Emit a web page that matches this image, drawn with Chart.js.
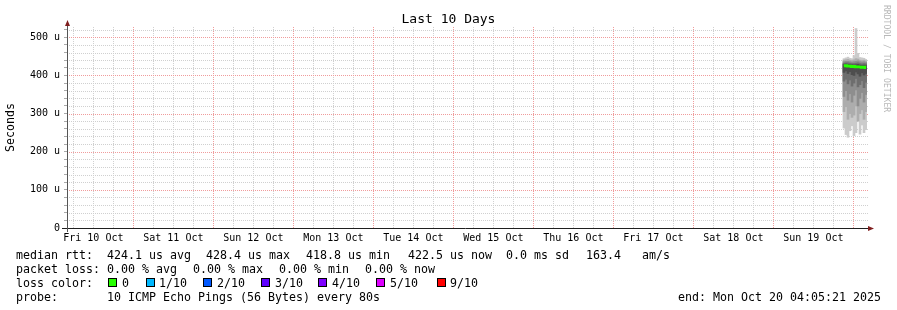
<!DOCTYPE html>
<html>
<head>
<meta charset="utf-8">
<script src="https://cdn.jsdelivr.net/npm/chart.js@4"></script>
<style>
html,body{margin:0;padding:0;background:#fff;}
#wrap{position:relative;width:897px;height:310px;overflow:hidden;background:#fff;}
#c{position:absolute;left:0;top:0;}
.t{position:absolute;font-family:'DejaVu Sans Mono',monospace;font-size:11.63px;line-height:14px;white-space:pre;color:#000;}
.box{position:absolute;width:9px;height:9px;box-sizing:border-box;border:1px solid #000;}
#title{position:absolute;left:0;top:11px;width:897px;text-align:center;font-family:'DejaVu Sans Mono',monospace;font-size:13px;line-height:16px;color:#000;white-space:pre;}
#wm{position:absolute;left:882px;top:5px;font-family:'DejaVu Sans Mono',monospace;font-size:8.1px;line-height:9px;color:#b8b8b8;writing-mode:vertical-rl;white-space:pre;}
</style>
</head>
<body>
<div id="wrap">
<canvas id="c" width="897" height="310"></canvas>
<div id="title">Last 10 Days</div>
<div id="wm">RRDTOOL / TOBI OETIKER</div>

<div class="t" style="left:16px;top:248px">median rtt:</div>
<div class="t" style="left:107px;top:248px">424.1 us avg</div>
<div class="t" style="left:206px;top:248px">428.4 us max</div>
<div class="t" style="left:306px;top:248px">418.8 us min</div>
<div class="t" style="left:408px;top:248px">422.5 us now</div>
<div class="t" style="left:506px;top:248px">0.0 ms sd</div>
<div class="t" style="left:586px;top:248px">163.4   am/s</div>

<div class="t" style="left:16px;top:262px">packet loss:</div>
<div class="t" style="left:107px;top:262px">0.00 % avg</div>
<div class="t" style="left:193px;top:262px">0.00 % max</div>
<div class="t" style="left:279px;top:262px">0.00 % min</div>
<div class="t" style="left:365px;top:262px">0.00 % now</div>

<div class="t" style="left:16px;top:276px">loss color:</div>
<div id="losslegend"></div>

<div class="t" style="left:16px;top:290px">probe:</div>
<div class="t" style="left:107px;top:290px">10 ICMP Echo Pings (56 Bytes) every 80s</div>
<div class="t" style="left:678px;top:290px">end: Mon Oct 20 04:05:21 2025</div>
</div>

<script>
// ---------------- data ----------------
// x positions: hours since window start (Fri 10 Oct 04:05:21)
const sampleHours = [233.1, 233.7, 234.3, 234.9, 235.5, 236.1, 236.7, 237.3, 237.9, 238.5, 239.1, 239.7];
// smoke layers (microseconds), outer (ping 1/10) to inner (ping 5/6)
const smoke1Low  = [262, 245, 238, 255, 268, 242, 250, 290, 246, 270, 250, 258];
const smoke1High = [444, 446, 448, 445, 444, 452, 523, 458, 447, 446, 445, 442];
const smoke2Low  = [305, 318, 285, 300, 290, 296, 320, 280, 300, 310, 285, 305];
const smoke2High = [440, 441, 442, 440, 439, 441, 444, 443, 440, 439, 440, 438];
const smoke3Low  = [345, 360, 335, 352, 330, 348, 362, 320, 340, 355, 330, 350];
const smoke3High = [436, 437, 437, 436, 435, 436, 437, 438, 436, 435, 436, 434];
const smoke4Low  = [385, 390, 378, 388, 372, 380, 392, 370, 376, 386, 368, 382];
const smoke4High = [432, 433, 433, 432, 431, 431, 432, 433, 431, 430, 431, 430];
const smoke5Low  = [408, 412, 405, 410, 402, 400, 409, 404, 398, 407, 401, 405];
const smoke5High = [429, 430, 429, 428, 428, 427, 428, 429, 427, 426, 427, 426];
const medianRtt  = [425, 426, 424, 425, 423, 424, 422, 423, 422, 421, 422, 420];

const dayLabels = ['Fri 10 Oct','Sat 11 Oct','Sun 12 Oct','Mon 13 Oct','Tue 14 Oct',
                   'Wed 15 Oct','Thu 16 Oct','Fri 17 Oct','Sat 18 Oct','Sun 19 Oct'];
const yTickValues = [0,20,40,60,80,100,120,140,160,180,200,220,240,260,280,300,320,340,360,380,400,420,440,460,480,500,520];
const lossLabels = ['0','1/10','2/10','3/10','4/10','5/10','9/10'];
const lossColors = ['#26ff00','#00b8ff','#0059ff','#5e00ff','#7e00ff','#dd00ff','#ff0000'];

const WINDOW_HOURS = 240;
const FIRST_NOON = 7.9108; // Fri 10 Oct 12:00 relative to window start
const Y_MAX = 527;

// ---------------- loss legend ----------------
const boxX = [108, 146, 203, 261, 318, 376, 437];
const txtX = [122, 159, 217, 275, 332, 390, 450];
const ll = document.getElementById('losslegend');
lossLabels.forEach((lab, i) => {
  const b = document.createElement('div');
  b.className = 'box';
  b.style.left = boxX[i] + 'px'; b.style.top = '278px'; b.style.background = lossColors[i];
  ll.appendChild(b);
  const t = document.createElement('div');
  t.className = 't'; t.style.left = txtX[i] + 'px'; t.style.top = '276px'; t.textContent = lab;
  ll.appendChild(t);
});

// ---------------- chart ----------------
const MAJOR_GRID = '#f09c9c';
const MINOR_GRID = '#d0d0d0';
const xTickValues = [];
for (let k = 0; FIRST_NOON - 6 + 6 * k < WINDOW_HOURS; k++) {
  const t = FIRST_NOON - 6 + 6 * k;
  if (t > 0) xTickValues.push(t);
}
function dayIndexAtNoon(v) {
  const k = Math.round((v - FIRST_NOON) / 24);
  return Math.abs(v - FIRST_NOON - 24 * k) < 0.01 ? k : -1;
}
function isMidnight(v) {
  const k = Math.round((v - FIRST_NOON - 12) / 24);
  return Math.abs(v - FIRST_NOON - 12 - 24 * k) < 0.01;
}

function pairs(lo, hi) { return sampleHours.map((h, i) => ({x: h, y: [lo[i], hi[i]]})); }

const layerColors = ['#cbcbcb', '#adadad', '#8e8e8e', '#6e6e6e', '#4e4e4e'];
const layers = [[smoke1Low, smoke1High],[smoke2Low, smoke2High],[smoke3Low, smoke3High],[smoke4Low, smoke4High],[smoke5Low, smoke5High]];
const datasets = layers.map((l, i) => ({
  type: 'bar',
  data: pairs(l[0], l[1]),
  backgroundColor: layerColors[i],
  borderWidth: 0,
  barThickness: 2,
  grouped: false,
  order: 10 - i
}));
datasets.push({
  type: 'line',
  data: sampleHours.map((h, i) => ({x: h, y: medianRtt[i]})),
  borderColor: '#26ff00',
  borderWidth: 2.5,
  pointRadius: 0,
  stepped: 'middle',
  order: 0
});

// dotted rrdtool-style grid, positioned by the chart's own scales
const rrdGrid = {
  id: 'rrdGrid',
  beforeDatasetsDraw(chart) {
    const {ctx, chartArea: a, scales} = chart;
    ctx.save();
    ctx.lineWidth = 1;
    ctx.setLineDash([1, 1]);
    [MINOR_GRID, MAJOR_GRID].forEach(col => {
      scales.x.ticks.forEach(t => {
        const c = isMidnight(t.value) ? MAJOR_GRID : MINOR_GRID;
        if (c !== col) return;
        const px = Math.round(scales.x.getPixelForValue(t.value)) + 0.5;
        if (px <= a.left + 1) return;
        ctx.strokeStyle = c;
        ctx.beginPath(); ctx.moveTo(px, a.top); ctx.lineTo(px, a.bottom); ctx.stroke();
      });
      scales.y.ticks.forEach(t => {
        const c = t.value % 100 === 0 ? MAJOR_GRID : MINOR_GRID;
        if (c !== col || t.value === 0) return;
        const py = Math.round(scales.y.getPixelForValue(t.value)) + 0.5;
        ctx.strokeStyle = c;
        ctx.beginPath(); ctx.moveTo(a.left, py); ctx.lineTo(a.right + 1, py); ctx.stroke();
      });
    });
    ctx.restore();
  },
  afterDraw(chart) {
    const {ctx, chartArea: a} = chart;
    ctx.save();
    ctx.setLineDash([]);
    ctx.lineWidth = 1;
    ctx.strokeStyle = '#1f1f1f';
    ctx.beginPath(); ctx.moveTo(a.left - 5, a.bottom + 0.5); ctx.lineTo(a.right + 2, a.bottom + 0.5); ctx.stroke();
    ctx.strokeStyle = '#555';
    ctx.beginPath(); ctx.moveTo(a.left + 0.5, a.bottom + 4); ctx.lineTo(a.left + 0.5, a.top - 2); ctx.stroke();
    ctx.fillStyle = '#801f1f';
    ctx.beginPath(); ctx.moveTo(a.left - 2, a.top - 1); ctx.lineTo(a.left + 3, a.top - 1); ctx.lineTo(a.left + 0.5, a.top - 7); ctx.closePath(); ctx.fill();
    ctx.beginPath(); ctx.moveTo(a.right + 1, a.bottom - 2); ctx.lineTo(a.right + 1, a.bottom + 3); ctx.lineTo(a.right + 7, a.bottom + 0.5); ctx.closePath(); ctx.fill();
    ctx.restore();
  }
};

new Chart(document.getElementById('c'), {
  type: 'bar',
  data: { datasets },
  plugins: [rrdGrid],
  options: {
    responsive: false,
    animation: false,
    devicePixelRatio: 1,
    layout: { padding: { left: 0, right: 30, top: 27, bottom: 62 } },
    plugins: { legend: { display: false }, tooltip: { enabled: false }, title: { display: false } },
    scales: {
      x: {
        type: 'linear',
        min: 0, max: WINDOW_HOURS,
        offset: false,
        afterBuildTicks: s => { s.ticks = xTickValues.map(v => ({value: v})); },
        afterFit: s => { s.height = 20; },
        ticks: {
          autoSkip: false, maxRotation: 0, minRotation: 0, padding: 1,
          font: { family: 'DejaVu Sans Mono', size: 10 }, color: '#000',
          callback: v => { const k = dayIndexAtNoon(v); return k >= 0 && k < dayLabels.length ? dayLabels[k] : ''; }
        },
        grid: {
          offset: false,
          drawOnChartArea: false,
          drawTicks: true,
          tickLength: 3, tickColor: 'rgba(0,0,0,0)'
        },
        border: { display: false }
      },
      y: {
        type: 'linear',
        min: 0, max: Y_MAX,
        afterBuildTicks: s => { s.ticks = yTickValues.map(v => ({value: v})); },
        afterFit: s => { s.width = 67; },
        ticks: {
          autoSkip: false, padding: 4,
          font: { family: 'DejaVu Sans Mono', size: 10 }, color: '#000',
          callback: v => v % 100 === 0 ? (v === 0 ? '0' : v + ' u') : ''
        },
        grid: {
          drawOnChartArea: false,
          drawTicks: true,
          tickLength: 3, tickColor: '#aaa'
        },
        border: { display: false },
        title: {
          display: true, text: 'Seconds', color: '#000',
          font: { family: 'DejaVu Sans Mono', size: 11.6 },
          padding: { top: 4, bottom: 0 }
        }
      }
    }
  }
});
</script>
</body>
</html>
